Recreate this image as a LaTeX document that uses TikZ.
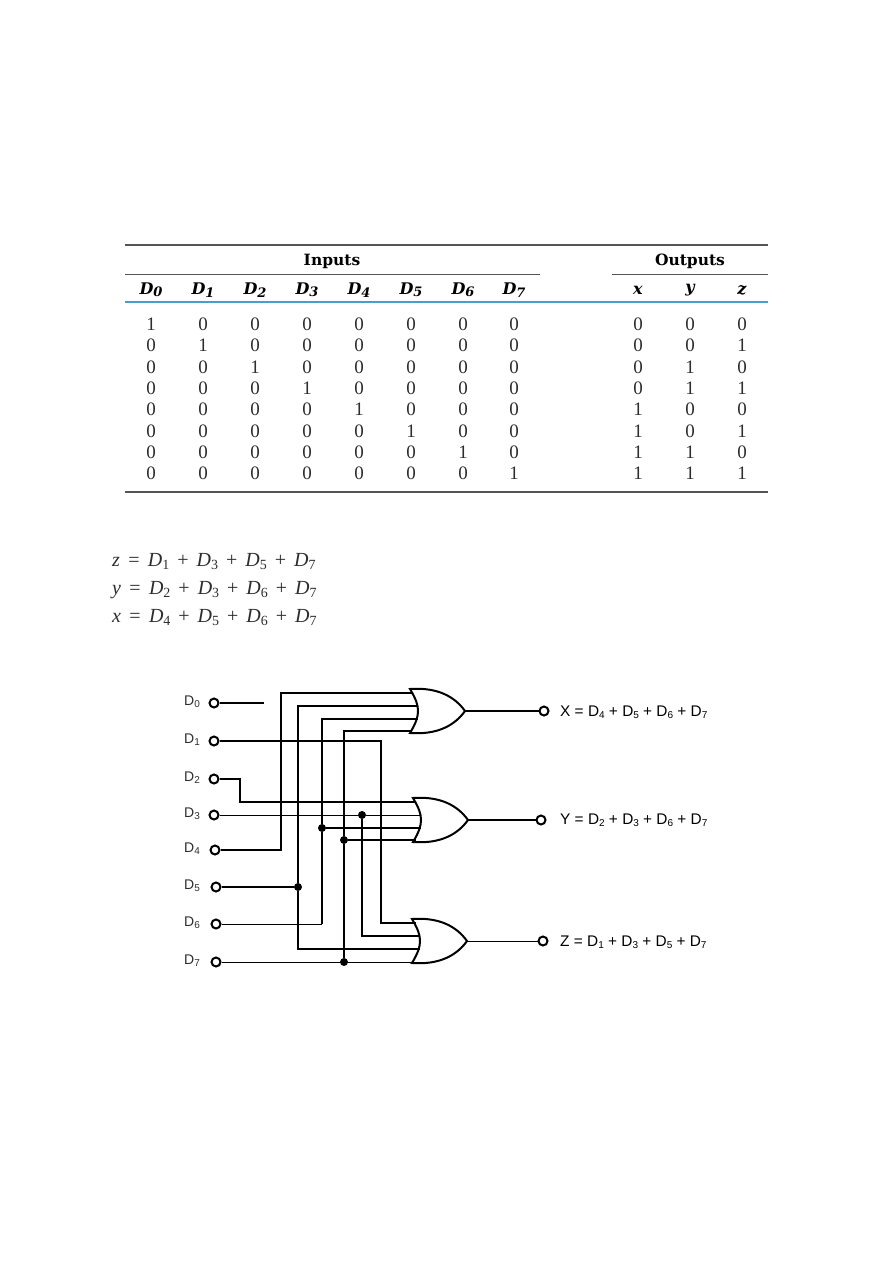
\documentclass[tikz,border=0pt]{standalone}
\usepackage{fontspec}
\setmainfont{Liberation Serif}
\newfontfamily\headfont{DejaVu Serif}
\newfontfamily\wirefont{Liberation Sans}
\usetikzlibrary{arrows,positioning}
\definecolor{rulegray}{RGB}{85,85,85}
\definecolor{ruleblue}{RGB}{70,160,205}
\definecolor{inkgray}{RGB}{45,45,45}
\tikzstyle{cell} = [inner sep=0pt, font=\fontsize{19}{20}\selectfont, text=inkgray]
\tikzstyle{head} = [inner sep=0pt, font=\headfont\bfseries\fontsize{15.5}{18}\selectfont]
\tikzstyle{headd} = [inner sep=0pt, font=\headfont\bfseries\itshape\fontsize{16}{18}\selectfont]
\tikzstyle{eqn} = [inner sep=0pt, anchor=west, font=\fontsize{20}{22}\selectfont, text=inkgray]
\tikzstyle{pin} = [circle, draw, fill=white, line width=2pt, inner sep=0pt, minimum size=9pt]
\tikzstyle{dot} = [circle, fill=black, inner sep=0pt, minimum size=8pt]
\tikzstyle{wirelabel} = [inner sep=0pt, font=\wirefont\fontsize{14}{15}\selectfont, text=inkgray]
\tikzstyle{outlabel} = [inner sep=0pt, anchor=west, font=\wirefont\fontsize{15.4}{16}\selectfont, text=black]
\tikzstyle{heavy} = [line width=2pt]
\tikzstyle{light} = [line width=1pt]
\tikzset{orgate/.pic={
    \draw[line width=2pt] (0,-22) .. controls (6,-12) and (8,-6) .. (8,0)
        .. controls (8,6) and (6,12) .. (0,22)
        .. controls (28,24) and (45,14) .. (55,0)
        .. controls (45,-14) and (28,-24) .. (0,-22) -- cycle;
    \coordinate (-out) at (55,0);
}}
\newcommand{\dsub}[1]{\textit{D}{\fontsize{14}{14}\selectfont\lower3pt\hbox{#1}}}
\newcommand{\wsub}[1]{D{\fontsize{10}{10}\selectfont\lower2pt\hbox{#1}}}
\newcommand{\hsub}[1]{D{\fontsize{13}{13}\selectfont\lower2.5pt\hbox{#1}}}
\newcommand{\plus}{\hspace{8pt}+\hspace{8pt}}
\begin{document}
\begin{tikzpicture}[x=1pt,y=-1pt]
  \useasboundingbox (0,0) rectangle (893,1263);

  % table rules
  \draw[rulegray,line width=2pt] (125,245) -- (768,245);
  \draw[rulegray,line width=1pt] (125,274) -- (540,274);
  \draw[rulegray,line width=1pt] (612,274) -- (768,274);
  \draw[ruleblue,line width=2pt] (125,302) -- (768,302);
  \draw[rulegray,line width=2pt] (125,492) -- (768,492);

  % table head
  \node[head] (inputs) at (332,261) {Inputs};
  \node[head] (outputs) at (690,261) {Outputs};
  \foreach \xa [count=\j from 0] in {151,203,255,307,359,411,463,514}
    \node[headd] (h\j) at (\xa,290) {\hsub{\j}};
  \foreach \xa/\name in {638/x,690/y,742/z}
    \node[headd] (h\name) at (\xa,290) {\name};

  % table body
  \foreach \ya/\xb/\yb/\zb [count=\i from 0] in {324/0/0/0,345/0/0/1,367/0/1/0,388/0/1/1,
                                                 409/1/0/0,431/1/0/1,452/1/1/0,473/1/1/1} {
    \foreach \xa [count=\j from 0] in {151,203,255,307,359,411,463,514}
      \node[cell] (c\i-\j) at (\xa,\ya) {\ifnum\i=\j\relax 1\else 0\fi};
    \node[cell] (cx\i) at (638,\ya) {\xb};
    \node[cell] (cy\i) at (690,\ya) {\yb};
    \node[cell] (cz\i) at (742,\ya) {\zb};
  }

  % equations
  \node[eqn] (eqz) at (112,562) {\textit{z} \,=\, \dsub{1}\plus\dsub{3}\plus\dsub{5}\plus\dsub{7}};
  \node[eqn] (eqy) at (112,590) {\textit{y} \,=\, \dsub{2}\plus\dsub{3}\plus\dsub{6}\plus\dsub{7}};
  \node[eqn] (eqx) at (112,618) {\textit{x} \,=\, \dsub{4}\plus\dsub{5}\plus\dsub{6}\plus\dsub{7}};

  % gates
  \pic (gx) at (410,711) {orgate};
  \pic (gy) at (413,820) {orgate};
  \pic (gz) at (412,941) {orgate};

  % input pins
  \foreach \ya/\xa [count=\j from 0] in {703/214,741/214,779/214,815/214,850/215,887/216,924/216,962/216} {
    \node[pin] (d\j) at (\xa,\ya) {};
    \node[wirelabel] (l\j) at (192,\ya-1) {\wsub{\j}};
  }

  % junctions
  \node[dot] (j3) at (362,815) {};
  \node[dot] (j5) at (298,887) {};
  \node[dot] (j6) at (322,828) {};
  \node[dot] (j7a) at (344,840) {};
  \node[dot] (j7b) at (344,962) {};

  % free ends
  \coordinate (d0end) at (264,703);
  \coordinate (c6) at (322,924);
  \coordinate (x1) at (412,693);
  \coordinate (x2) at (417,706);
  \coordinate (x3) at (418,719);
  \coordinate (x4) at (412,731);
  \coordinate (y1) at (415,802);
  \coordinate (y2) at (420,815);
  \coordinate (y3) at (421,828);
  \coordinate (y4) at (416,840);
  \coordinate (z1) at (416,923);
  \coordinate (z2) at (420,936);
  \coordinate (z3) at (420,949);
  \coordinate (z4) at (415,962);

  % wires
  \draw[heavy] (d0) -- (d0end);
  \draw[heavy] (d1.east) -- (381,741) |- (z1);
  \draw[heavy] (d2) -- (240,779) |- (y1);
  \draw[light] (d3) -- (j3) -- (y2);
  \draw[heavy] (j3) |- (z2);
  \draw[heavy] (d4) -- (281,850) |- (x1);
  \draw[heavy] (d5) -- (j5);
  \draw[heavy] (j5) |- (x2);
  \draw[heavy] (j5) |- (z3);
  \draw[light] (d6) -- (c6);
  \draw[heavy] (c6) -- (j6);
  \draw[heavy] (j6) |- (x3);
  \draw[heavy] (j6) -- (y3);
  \draw[light] (d7) -- (j7b) -- (z4);
  \draw[heavy] (j7b) -- (j7a);
  \draw[heavy] (j7a) |- (x4);
  \draw[heavy] (j7a) -- (y4);

  % outputs
  \node[pin] (ox) at (544,711) {};
  \node[pin] (oy) at (541,820) {};
  \node[pin] (oz) at (543,941) {};
  \draw[heavy] (gx-out) -- (ox);
  \draw[heavy] (gy-out) -- (oy);
  \draw[light] (gz-out) -- (oz);
  \node[outlabel] (lx) at (560,712) {X = \wsub{4} + \wsub{5} + \wsub{6} + \wsub{7}};
  \node[outlabel] (ly) at (560,820) {Y = \wsub{2} + \wsub{3} + \wsub{6} + \wsub{7}};
  \node[outlabel] (lz) at (560,942) {Z = \wsub{1} + \wsub{3} + \wsub{5} + \wsub{7}};
\end{tikzpicture}
\end{document}
